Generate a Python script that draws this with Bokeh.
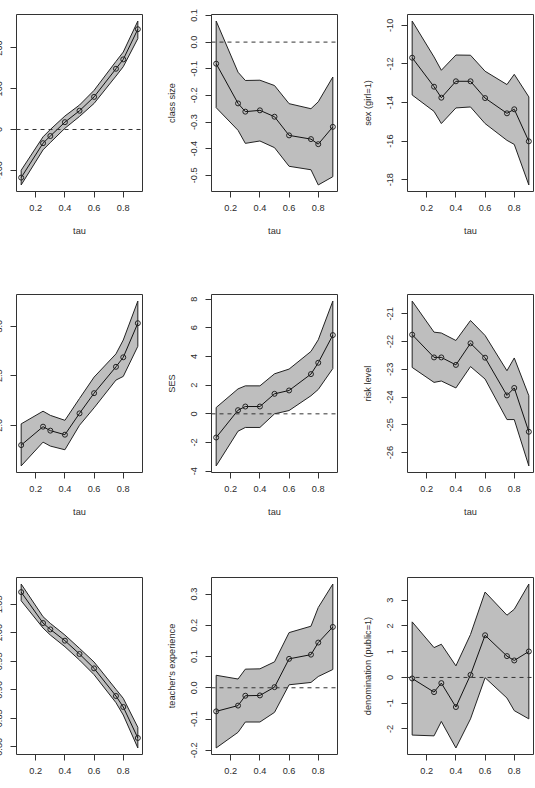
from bokeh.plotting import figure
from bokeh.layouts import gridplot
from bokeh.models import Range1d, FixedTicker, NumeralTickFormatter, Span, ColumnDataSource
from bokeh.embed import file_html
from bokeh.resources import INLINE

tau = [0.1, 0.25, 0.3, 0.4, 0.5, 0.6, 0.75, 0.8, 0.9]
x_ticks = [0.2, 0.4, 0.6, 0.8]

# Row 1, column 1 (label cut off in the reference)
p1_coef = [-118, -33.5, -16, 18, 46, 80, 149, 172, 246]
p1_lo = [-136, -50, -32, 3, 32, 64, 131, 154, 223]
p1_hi = [-100, -18, 0, 33, 60, 96, 167, 190, 266]
p1_ticks = [-100, 0, 100, 200]

# class size
p2_coef = [-0.081, -0.230, -0.261, -0.256, -0.280, -0.350, -0.364, -0.383, -0.318]
p2_lo = [-0.246, -0.331, -0.380, -0.371, -0.396, -0.466, -0.479, -0.536, -0.505]
p2_hi = [0.079, -0.113, -0.144, -0.143, -0.163, -0.231, -0.250, -0.224, -0.131]
p2_ticks = [-0.5, -0.4, -0.3, -0.2, -0.1, 0.0, 0.1]

# sex (girl=1)
p3_coef = [-11.68, -13.18, -13.75, -12.90, -12.90, -13.77, -14.56, -14.35, -16.01]
p3_lo = [-13.61, -14.46, -15.09, -14.28, -14.23, -15.09, -15.96, -16.17, -18.27]
p3_hi = [-9.78, -11.64, -12.33, -11.54, -11.55, -12.38, -13.07, -12.54, -13.71]
p3_ticks = [-18, -16, -14, -12, -10]

# Row 2, column 1 (label cut off)
p4_coef = [1.80, 1.986, 1.946, 1.905, 2.12, 2.324, 2.59, 2.686, 3.03]
p4_lo = [1.59, 1.83, 1.79, 1.753, 2.0, 2.176, 2.456, 2.493, 2.797]
p4_hi = [2.014, 2.142, 2.10, 2.05, 2.27, 2.486, 2.72, 2.86, 3.253]
p4_ticks = [2.0, 2.5, 3.0]

# SES
p5_coef = [-1.65, 0.256, 0.51, 0.51, 1.395, 1.63, 2.77, 3.56, 5.49]
p5_lo = [-3.63, -1.21, -0.95, -0.95, 0.0, 0.23, 1.26, 1.70, 3.16]
p5_hi = [0.44, 1.74, 1.95, 1.95, 2.79, 3.12, 4.35, 5.16, 7.86]
p5_ticks = [-4, -2, 0, 2, 4, 6, 8]

# risk level
p6_coef = [-21.75, -22.57, -22.57, -22.84, -22.06, -22.58, -23.94, -23.67, -25.25]
p6_lo = [-22.93, -23.47, -23.42, -23.67, -22.90, -23.35, -24.81, -24.81, -26.48]
p6_hi = [-20.54, -21.66, -21.69, -21.96, -21.24, -21.78, -23.05, -22.59, -23.95]
p6_ticks = [-26, -25, -24, -23, -22, -21]

# Row 3, column 1 (label cut off)
p7_coef = [1.0716, 1.0173, 1.0061, 0.9863, 0.9629, 0.9377, 0.8892, 0.8699, 0.8155]
p7_lo = [1.0564, 1.0085, 0.9962, 0.9757, 0.9523, 0.9266, 0.8775, 0.8558, 0.798]
p7_hi = [1.0857, 1.0284, 1.0167, 0.9962, 0.9728, 0.9488, 0.9009, 0.8851, 0.8342]
p7_ticks = [0.80, 0.85, 0.90, 0.95, 1.00, 1.05]

# teacher's experience
p8_coef = [-0.0755, -0.057, -0.0255, -0.0245, 0.002, 0.0926, 0.106, 0.1447, 0.1947]
p8_lo = [-0.1926, -0.1426, -0.1096, -0.1096, -0.0787, 0.0096, 0.017, 0.036, 0.0585]
p8_hi = [0.040, 0.028, 0.0596, 0.0606, 0.083, 0.1766, 0.197, 0.257, 0.332]
p8_ticks = [-0.2, -0.1, 0.0, 0.1, 0.2, 0.3]

# denomination (public=1)
p9_coef = [-0.04, -0.57, -0.22, -1.15, 0.10, 1.64, 0.83, 0.66, 1.01]
p9_lo = [-2.24, -2.27, -1.71, -2.74, -1.61, -0.01, -0.80, -1.29, -1.61]
p9_hi = [2.16, 1.16, 1.29, 0.45, 1.67, 3.32, 2.42, 2.65, 3.63]
p9_ticks = [-2, -1, 0, 1, 2, 3]

panels = [
    ("", p1_coef, p1_lo, p1_hi, p1_ticks, "0"),
    ("class size", p2_coef, p2_lo, p2_hi, p2_ticks, "0.0"),
    ("sex (girl=1)", p3_coef, p3_lo, p3_hi, p3_ticks, "0"),
    ("", p4_coef, p4_lo, p4_hi, p4_ticks, "0.0"),
    ("SES", p5_coef, p5_lo, p5_hi, p5_ticks, "0"),
    ("risk level", p6_coef, p6_lo, p6_hi, p6_ticks, "0"),
    ("", p7_coef, p7_lo, p7_hi, p7_ticks, "0.00"),
    ("teacher's experience", p8_coef, p8_lo, p8_hi, p8_ticks, "0.0"),
    ("denomination (public=1)", p9_coef, p9_lo, p9_hi, p9_ticks, "0"),
]

FONT = "Liberation Sans"
TXT = "#2b2b2b"
col_w = [195, 196, 190]
col_r = [7, 8, 2]
row_h = [280, 283, 225]
row_b = [89, 91, 34]

figs = []
for i, (ylab, coef, lo, hi, yt, fmt) in enumerate(panels):
    r, c = divmod(i, 3)
    ymin, ymax = min(lo), max(hi)
    pad = 0.04 * (ymax - ymin)
    p = figure(width=col_w[c], height=row_h[r],
               min_border_left=62, min_border_right=col_r[c],
               min_border_top=14, min_border_bottom=row_b[r],
               x_range=Range1d(0.068, 0.932),
               y_range=Range1d(ymin - pad, ymax + pad),
               output_backend="svg", toolbar_location=None)
    p.xgrid.visible = False
    p.ygrid.visible = False
    p.outline_line_color = "#333333"
    p.outline_line_width = 1
    p.background_fill_color = "white"
    p.border_fill_color = "white"

    src = ColumnDataSource(dict(x=tau, y=coef))
    p.patch(tau + tau[::-1], hi + lo[::-1], fill_color="#bebebe",
            line_color="#222222", line_width=1)
    if ymin - pad < 0 < ymax + pad:
        p.add_layout(Span(location=0, dimension="width", line_color="#333333",
                          line_width=1, line_dash="4 4"))
    p.line("x", "y", source=src, line_color="#111111", line_width=1)
    p.scatter("x", "y", source=src, marker="circle", size=5,
              fill_color=None, line_color="#222222", line_width=1)

    for ax in (p.xaxis[0], p.yaxis[0]):
        ax.axis_line_color = None
        ax.major_tick_in = 0
        ax.major_tick_out = 6
        ax.major_tick_line_color = "#333333"
        ax.minor_tick_line_color = None
        ax.major_label_text_font = FONT
        ax.major_label_text_font_size = "9.2px"
        ax.major_label_text_color = TXT
        ax.axis_label_text_font = FONT
        ax.axis_label_text_font_size = "9.2px"
        ax.axis_label_text_font_style = "normal"
        ax.axis_label_text_color = TXT
    p.xaxis.ticker = FixedTicker(ticks=x_ticks)
    p.xaxis.formatter = NumeralTickFormatter(format="0.0")
    p.xaxis.major_label_standoff = 7
    if r < 2:
        p.xaxis.axis_label = "tau"
        p.xaxis.axis_label_standoff = 12
    p.yaxis.ticker = FixedTicker(ticks=yt)
    p.yaxis.formatter = NumeralTickFormatter(format=fmt)
    p.yaxis.major_label_orientation = "vertical"
    p.yaxis.major_label_standoff = 8
    if ylab:
        p.yaxis.axis_label = ylab
        p.yaxis.axis_label_standoff = 12
    figs.append(p)

grid = gridplot([figs[0:3], figs[3:6], figs[6:9]], toolbar_location=None)
grid.styles = {"margin-left": "-46px"}

open("out.html", "w").write(file_html(grid, INLINE))
